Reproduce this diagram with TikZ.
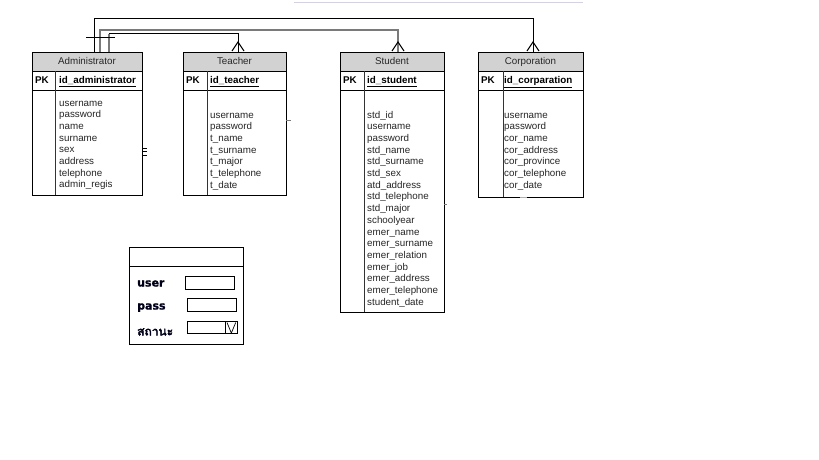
\documentclass[tikz,border=0pt]{standalone}
\usepackage{fontspec}
\setmainfont{Liberation Sans}
\newfontfamily\thaifont[Script=Thai,FakeBold=3]{Loma}
\newfontfamily\formfont[FakeBold=1.2]{DejaVu Sans Bold}
\usetikzlibrary{calc}
\definecolor{headgray}{HTML}{D2D2D2}
\definecolor{midgray}{HTML}{7A7A7A}
\definecolor{lightline}{HTML}{D4D2E0}
\newcommand\erbox[6]{% name, left, right, bottom, divider x, title
  \fill[headgray] (#2,52) rectangle (#3,71.5);
  \draw[tline] (#2,71.5) -- (#3,71.5) (#2,90) -- (#3,90);
  \draw[dline] (#5,71.5) -- (#5,#4);
  \node[tbl, minimum width=#3-#2, minimum height=#4-52] (#1) at (#2,52) {};
  \node[ttl] (#1-title) at ({(#2+#3)/2},65) {#6};
  \node[pk] (#1-pk) at (#2+3,84) {PK};
}
\newcommand\crowfoot[1]{%
  \draw[conn] ($(#1)+(-6,-1)$) -- ($(#1)+(0,-10)$) -- ($(#1)+(6,-1)$);
}
\begin{document}
\begin{tikzpicture}[x=1pt,y=-1pt,
  font=\fontsize{9.8}{11.7}\selectfont,
  tbl/.style={draw=black, line width=1pt, anchor=north west, inner sep=0pt},
  tline/.style={draw=black, line width=1pt},
  dline/.style={draw=black!80, line width=1pt},
  ttl/.style={anchor=base, inner sep=0pt, text=black!85},
  pk/.style={anchor=base west, inner sep=0pt, font=\fontsize{9.8}{11.7}\selectfont\bfseries},
  pkid/.style={anchor=base west, inner sep=0pt, font=\fontsize{9.8}{11.7}\selectfont\bfseries},
  fld/.style={anchor=base west, inner sep=0pt, text=black!85},
  conn/.style={draw=black, line width=1pt},
  gconn/.style={draw=midgray, line width=1.1pt},
  lbl/.style={anchor=base west, inner sep=0pt, text=black!90!blue, font=\formfont\fontsize{11}{13}\selectfont},
  inbox/.style={draw=black, line width=1pt, anchor=north west, inner sep=0pt},
]
\useasboundingbox[fill=white] (0,0) rectangle (819,460);

% faint line at the top
\draw[lightline, line width=0.8pt] (294,2.3) -- (583,2.3);

% ---------- tables ----------
\erbox{adm}{32}{142}{195}{55}{Administrator}
\node[pkid] (adm-id) at (59,84) {\underline{id\_administrator}};
\foreach \t [count=\i] in {username,password,name,surname,sex,address,telephone,admin\_regis}
  \node[fld] (adm-\i) at (59,{106+(\i-1)*11.7}) {\t};

\erbox{tea}{183}{286}{195}{207}{Teacher}
\node[pkid] (tea-id) at (210,84) {\underline{id\_teacher}};
\foreach \t [count=\i] in {username,password,t\_name,t\_surname,t\_major,t\_telephone,t\_date}
  \node[fld] (tea-\i) at (210,{118+(\i-1)*11.7}) {\t};

\erbox{stu}{340}{444}{312}{364}{Student}
\node[pkid] (stu-id) at (367,84) {\underline{id\_student}};
\foreach \t [count=\i] in {std\_id,username,password,std\_name,std\_surname,std\_sex,atd\_address,std\_telephone,std\_major,schoolyear,emer\_name,emer\_surname,emer\_relation,emer\_job,emer\_address,emer\_telephone,student\_date}
  \node[fld] (stu-\i) at (367,{118+(\i-1)*11.7}) {\t};

\erbox{cor}{478}{583}{196.5}{503}{Corporation}
\node[pkid] (cor-id) at (504,84) {\underline{id\_corparation}};
\foreach \t [count=\i] in {username,password,cor\_name,cor\_address,cor\_province,cor\_telephone,cor\_date}
  \node[fld] (cor-\i) at (504,{118+(\i-1)*11.7}) {\t};

% ---------- connectors ----------
\draw[conn] ([xshift=62.3pt]adm.north west) -- ++(0,-33) -| ([xshift=55pt]cor.north west);
\draw[gconn] ([xshift=68pt]adm.north west) -- ++(0,-22) -| ([xshift=58pt]stu.north west);
\draw[gconn] ([xshift=77pt]adm.north west) -- ++(0,-18);
\draw[conn] ([xshift=77pt,yshift=18pt]adm.north west) -| ([xshift=55pt]tea.north west);
\draw[conn] ([xshift=54pt,yshift=14pt]adm.north west) -- ++(29,0);
\coordinate (tea-foot) at ([xshift=55pt]tea.north west);
\coordinate (stu-foot) at ([xshift=58pt]stu.north west);
\coordinate (cor-foot) at ([xshift=55pt]cor.north west);
\crowfoot{tea-foot}
\crowfoot{stu-foot}
\crowfoot{cor-foot}

% small stray marks
\draw[black, line width=0.8pt] (142,148.3) -- (147,148.3) (142,151.2) -- (147,151.2) (142,155.7) -- (147,155.7);
\draw[midgray, line width=0.8pt] (286,120) -- (291,120);
\draw[midgray, line width=0.8pt] (444,204) -- (446.5,204);
\draw[midgray!60, line width=0.8pt] (520,197.5) -- (527,197.5);

% ---------- login form ----------
\node[draw=black, line width=1.4pt, anchor=north west, minimum width=114, minimum height=97, inner sep=0pt] (login) at (129,247) {};
\draw[black, line width=1.1pt] ($(login.north west)+(0,19.7)$) -- ($(login.north east)+(0,19.7)$);
\node[lbl] (lbl-user) at (137,286.5) {user};
\node[lbl] (lbl-pass) at (137,309.5) {pass};
\node[lbl, font=\thaifont\fontsize{12}{13}\selectfont] (lbl-status) at (137,335.5) {สถานะ};
\node[inbox, minimum width=49.3, minimum height=13.6] (f-user) at (185,275.7) {};
\node[inbox, minimum width=49, minimum height=12.4] (f-pass) at (186.7,298.3) {};
\node[inbox, minimum width=50, minimum height=12.3] (f-status) at (186.7,321) {};
\node[inbox, minimum width=11.7, minimum height=12.3] (f-btn) at (225,321) {};
\draw[black, line width=0.7pt] ($(f-btn.north west)+(2,1.5)$) -- ($(f-btn.south)+(0,-1.2)$) -- ($(f-btn.north east)+(-2,1.5)$);
\end{tikzpicture}
\end{document}
